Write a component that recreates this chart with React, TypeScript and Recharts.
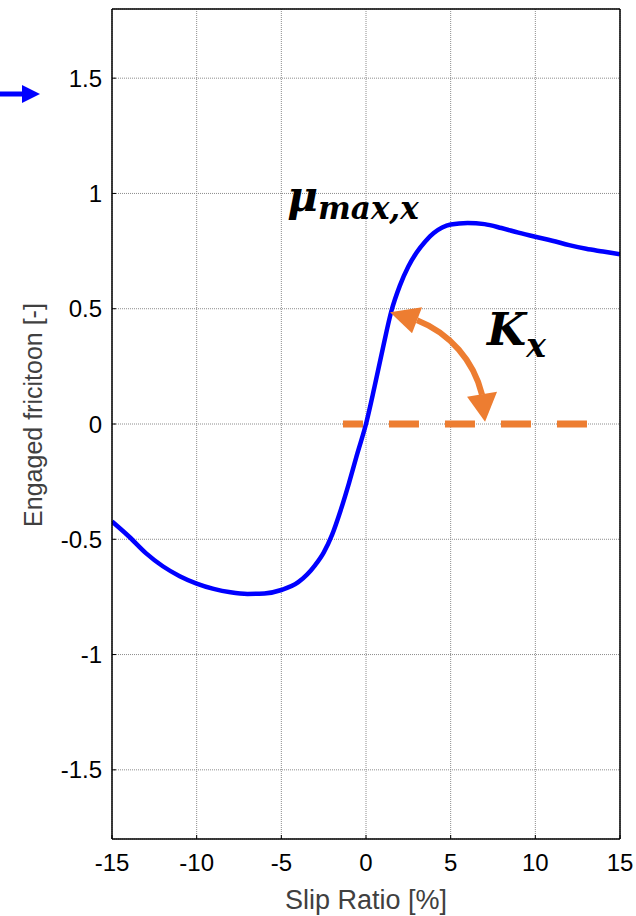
import React from 'react';
import {
  LineChart,
  Line,
  XAxis,
  YAxis,
  CartesianGrid,
  ReferenceLine,
} from 'recharts';

// Longitudinal friction curve: engaged friction vs slip ratio
const slipRatio = [
  -15, -14, -13, -12, -11, -10, -9, -8, -7, -6, -5, -4, -3, -2.5, -2, -1.5, -1, -0.5,
  0, 0.5, 1, 1.5, 2, 2.5, 3, 3.5, 4, 4.5, 5, 6, 7, 8, 9, 10, 11, 12, 13, 14, 15,
];
const engagedFriction = [
  -0.423, -0.488, -0.56, -0.617, -0.66, -0.692, -0.715, -0.73, -0.737, -0.735, -0.72,
  -0.686, -0.612, -0.558, -0.48, -0.375, -0.255, -0.125,
  0, 0.16, 0.33, 0.49, 0.6, 0.683, 0.745, 0.792, 0.828, 0.852, 0.865, 0.872, 0.867, 0.85,
  0.83, 0.812, 0.795, 0.776, 0.76, 0.748, 0.736,
];

const xTicks = [-15, -10, -5, 0, 5, 10, 15];
const yTicks = [-1.5, -1, -0.5, 0, 0.5, 1, 1.5];

// zero-friction reference (dashed) and the stiffness arc end points
const zeroLineStart = { x: -1.36, y: 0 };
const zeroLineEnd = { x: 13.2, y: 0 };
const stiffnessTipTop = { x: 1.42, y: 0.485 };
const stiffnessTipBottom = { x: 7.03, y: 0.01 };
const muLabelPos = { x: -4.65, y: 0.925 };
const kLabelPos = { x: 7.15, y: 0.343 };

const X_MIN = -15;
const X_MAX = 15;
const Y_MIN = -1.8;
const Y_MAX = 1.8;

const W = 636;
const H = 916;
const PLOT = { left: 112, top: 9, right: 620, bottom: 839 };

const data = slipRatio.map((s, i) => ({ slip: s, mu: engagedFriction[i] }));

const sx = (v: number) => PLOT.left + ((v - X_MIN) / (X_MAX - X_MIN)) * (PLOT.right - PLOT.left);
const sy = (v: number) => PLOT.top + ((Y_MAX - v) / (Y_MAX - Y_MIN)) * (PLOT.bottom - PLOT.top);

const ORANGE = '#ED7D31';
const BLUE = '#0000FF';
const SANS = '"Liberation Sans", Arial, sans-serif';
const SERIF = '"DejaVu Serif", serif';

function YTitle({ viewBox }: any) {
  const cx = viewBox.x + 33;
  const cy = viewBox.y + viewBox.height / 2 - 9;
  return (
    <text
      x={cx}
      y={cy}
      transform={`rotate(-90, ${cx}, ${cy})`}
      textAnchor="middle"
      dominantBaseline="central"
      fontSize={25}
      fontFamily={SANS}
      fill="#404040"
    >
      Engaged fricitoon [-]
    </text>
  );
}

function Annotations() {
  const t1 = { x: sx(stiffnessTipTop.x), y: sy(stiffnessTipTop.y) };
  const t2 = { x: sx(stiffnessTipBottom.x), y: sy(stiffnessTipBottom.y) };
  const b1 = { x: t1.x + 27, y: t1.y + 8 };
  const b2 = { x: t2.x - 3, y: t2.y - 27 };
  return (
    <svg
      width={W}
      height={H}
      style={{ position: 'absolute', left: 0, top: 0, pointerEvents: 'none' }}
    >
      {/* blue marker arrow in the left margin */}
      <rect x={0} y={91.5} width={23} height={5} fill={BLUE} />
      <polygon points="22,85 40,94 22,103" fill={BLUE} />

      {/* stiffness arc with arrow heads */}
      <path
        d={`M ${b1.x} ${b1.y} A 107 107 0 0 1 ${b2.x} ${b2.y}`}
        fill="none"
        stroke={ORANGE}
        strokeWidth={6}
      />
      <polygon
        points={`${t1.x},${t1.y} ${t1.x + 32},${t1.y - 5} ${t1.x + 22},${t1.y + 21}`}
        fill={ORANGE}
      />
      <polygon
        points={`${t2.x},${t2.y} ${t2.x - 18},${t2.y - 25} ${t2.x + 12},${t2.y - 30}`}
        fill={ORANGE}
      />

      <text
        x={sx(muLabelPos.x)}
        y={sy(muLabelPos.y)}
        fontFamily={SERIF}
        fontWeight="bold"
        fontStyle="italic"
        fill="#000"
      >
        <tspan fontSize={42}>μ</tspan>
        <tspan fontSize={31} dy={8}>max,x</tspan>
      </text>
      <text
        x={sx(kLabelPos.x)}
        y={sy(kLabelPos.y)}
        fontFamily={SERIF}
        fontWeight="bold"
        fontStyle="italic"
        fill="#000"
      >
        <tspan fontSize={45}>K</tspan>
        <tspan fontSize={33} dy={12}>x</tspan>
      </text>
    </svg>
  );
}

export default function App() {
  return (
    <div style={{ position: 'absolute', left: 0, top: 0, width: W, height: H, background: '#fff' }}>
      <LineChart
        width={W}
        height={H}
        data={data}
        margin={{ top: PLOT.top - 1, right: W - PLOT.right - 1, left: 0, bottom: 0 }}
      >
        <CartesianGrid stroke="#8c8c8c" strokeDasharray="1 1" />
        <XAxis
          dataKey="slip"
          type="number"
          domain={[X_MIN, X_MAX]}
          ticks={xTicks}
          allowDataOverflow
          height={H - PLOT.bottom}
          axisLine={{ stroke: '#000', strokeWidth: 1.5 }}
          tickLine={{ stroke: '#000' }}
          tickSize={-4}
          tickMargin={19}
          fontSize={24}
          fontFamily={SANS}
          tick={{ fontSize: 24, fill: '#000', fontFamily: SANS }}
          label={{
            value: 'Slip Ratio [%]',
            position: 'insideBottom',
            offset: 7,
            fontSize: 27,
            fill: '#404040',
            fontFamily: SANS,
          }}
        />
        <XAxis
          xAxisId="top"
          orientation="top"
          type="number"
          domain={[X_MIN, X_MAX]}
          ticks={xTicks}
          height={1}
          axisLine={{ stroke: '#000', strokeWidth: 1.5 }}
          tickLine={{ stroke: '#000' }}
          tickSize={-4}
          tick={false}
        />
        <YAxis
          type="number"
          domain={[Y_MIN, Y_MAX]}
          ticks={yTicks}
          allowDataOverflow
          width={PLOT.left}
          axisLine={{ stroke: '#000', strokeWidth: 1.5 }}
          tickLine={{ stroke: '#000' }}
          tickSize={-4}
          tickMargin={14}
          fontSize={24}
          fontFamily={SANS}
          tick={{ fontSize: 24, fill: '#000', fontFamily: SANS }}
          label={<YTitle />}
        />
        <YAxis
          yAxisId="right"
          orientation="right"
          type="number"
          domain={[Y_MIN, Y_MAX]}
          ticks={yTicks}
          width={1}
          axisLine={{ stroke: '#000', strokeWidth: 1.5 }}
          tickLine={{ stroke: '#000' }}
          tickSize={-4}
          tick={false}
        />
        <ReferenceLine
          segment={[zeroLineStart, zeroLineEnd]}
          stroke={ORANGE}
          strokeWidth={7}
          strokeDasharray="30 26"
          strokeDashoffset={10}
        />
        <Line
          type="monotone"
          dataKey="mu"
          stroke={BLUE}
          strokeWidth={4.5}
          dot={false}
          isAnimationActive={false}
        />
      </LineChart>
      <Annotations />
    </div>
  );
}
